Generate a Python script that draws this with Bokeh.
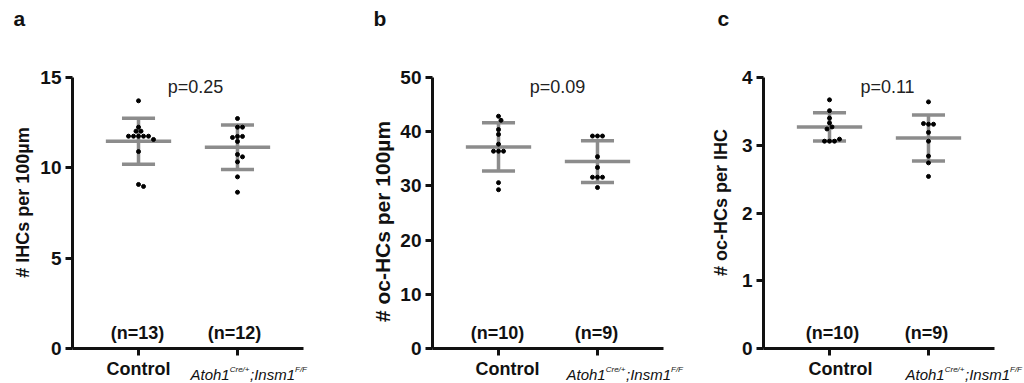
import numpy as np
from bokeh.plotting import figure
from bokeh.layouts import row
from bokeh.models import Range1d, FixedTicker, Label, CustomLabelingPolicy
from bokeh.embed import file_html
from bokeh.resources import INLINE

# ---------------- data ----------------
groups = ["Control", "Atoh1Cre/+;Insm1F/F"]

a_control = [13.71, 12.25, 12.03, 12.03, 11.75, 11.75, 11.75, 11.75, 11.75, 11.57, 10.90, 9.08, 8.97]
a_mutant = [12.73, 12.25, 12.25, 11.74, 11.74, 11.68, 11.46, 10.74, 10.61, 10.33, 9.50, 8.65]
a_mean = [11.47, 11.14]
a_sd = [1.27, 1.23]

b_control = [42.85, 42.1, 40.4, 39.5, 37.7, 36.4, 36.4, 36.4, 30.6, 29.3]
b_mutant = [39.2, 39.2, 39.2, 35.4, 33.4, 31.6, 31.6, 31.6, 29.7]
b_mean = [37.2, 34.5]
b_sd = [4.45, 3.85]

c_control = [3.67, 3.51, 3.40, 3.33, 3.27, 3.24, 3.06, 3.06, 3.06, 3.09]
c_mutant = [3.64, 3.31, 3.31, 3.32, 3.19, 3.06, 2.84, 2.74, 2.54]
c_mean = [3.27, 3.107]
c_sd = [0.209, 0.34]

y_ticks_a = [0, 5, 10, 15]
y_ticks_b = [0, 10, 20, 30, 40, 50]
y_ticks_c = [0, 1, 2, 3, 4]

n_labels_a = ["(n=13)", "(n=12)"]
n_labels_b = ["(n=10)", "(n=9)"]
n_labels_c = ["(n=10)", "(n=9)"]

p_text = ["p=0.25", "p=0.09", "p=0.11"]
y_titles = ["# IHCs per 100\u00b5m", "# oc-HCs per 100\u00b5m", "# oc-HCs per IHC"]
letters = ["a", "b", "c"]

# ---------------- layout constants ----------------
FONT = "Liberation Sans"
FIG_H = 383
AX_LEFT = 72          # local x of the y axis inside each figure
AX_TOP, AX_BOT = 77, 348
X0, X1 = -0.667, 1.667
PPX = 231 / (X1 - X0)
BAR_GREY = "#8c8c8c"
INK = "#111111"

HIDE_ALL = CustomLabelingPolicy(code="""
const ids = [...indices];
for (const i of ids) indices.unset(i);
return indices;
""")


def beeswarm(values, ppy, step=5.0, mind=4.6):
    placed = []
    xs = []
    cands = [0.0]
    for i in range(1, 14):
        cands += [i * step * 0.5, -i * step * 0.5]
    for v in values:
        vy = v * ppy
        chosen = 0.0
        for c in cands:
            if all((c - px) ** 2 + (vy - py) ** 2 >= mind ** 2 for px, py in placed):
                chosen = c
                break
        placed.append((chosen, vy))
        xs.append(chosen / PPX)
    return xs


def lab(p, text, dx, dy, size="18px", style="bold", align="center",
        baseline="middle", angle=0.0, color=INK):
    p.add_layout(Label(x=X0, y=0, x_offset=dx, y_offset=dy, text=text,
                       text_font=FONT, text_font_size=size, text_font_style=style,
                       text_align=align, text_baseline=baseline, angle=angle,
                       text_color=color))


def panel(fig_x0, width, ymax, yticks, ctrl, mut, means, sds, nlabels, ptxt,
          ytitle, letter, pos):
    ppy = (AX_BOT - AX_TOP) / ymax
    xr = Range1d(X0 - AX_LEFT / PPX, X0 + (width - AX_LEFT) / PPX)
    yr = Range1d(-(FIG_H - AX_BOT) / ppy, ymax + AX_TOP / ppy)
    p = figure(width=width, height=FIG_H, output_backend="svg", toolbar_location=None,
               x_range=xr, y_range=yr, min_border=0)
    p.outline_line_color = None
    p.grid.visible = False
    p.background_fill_color = "white"
    p.border_fill_color = "white"

    for ax in (p.xaxis[0], p.yaxis[0]):
        ax.axis_line_width = 3
        ax.axis_line_color = INK
        ax.major_tick_line_width = 3
        ax.major_tick_line_color = INK
        ax.major_tick_out = 7
        ax.major_tick_in = 0
        ax.minor_tick_out = 0
        ax.minor_tick_in = 0
    ya = p.yaxis[0]
    ya.ticker = FixedTicker(ticks=yticks)
    ya.fixed_location = X0
    ya.bounds = (0, ymax)
    ya.major_label_text_font = FONT
    ya.major_label_text_font_size = "19px"
    ya.major_label_text_font_style = "bold"
    ya.major_label_text_color = INK
    ya.major_label_standoff = 4
    xa = p.xaxis[0]
    xa.ticker = FixedTicker(ticks=[0, 1])
    xa.fixed_location = 0
    xa.bounds = (X0, X1)
    xa.major_label_policy = HIDE_ALL
    xa.major_label_standoff = 0

    # error bars (mean +/- SD)
    for i in range(2):
        m, s = means[i], sds[i]
        p.segment(x0=[i - 0.33], y0=[m], x1=[i + 0.33], y1=[m],
                  line_color=BAR_GREY, line_width=3.5)
        p.segment(x0=[i], y0=[m - s], x1=[i], y1=[m + s],
                  line_color=BAR_GREY, line_width=3.5)
        for yy in (m - s, m + s):
            p.segment(x0=[i - 0.167], y0=[yy], x1=[i + 0.167], y1=[yy],
                      line_color=BAR_GREY, line_width=3.5)
    # points
    for i, vals in enumerate([ctrl, mut]):
        jit = beeswarm(vals, ppy)
        p.scatter(x=[i + j for j in jit], y=vals, size=4, color="#000000")

    L = fig_x0 + AX_LEFT

    def dxy(px, py):
        return px - L, AX_BOT - py

    dx, dy = dxy(pos["letter_x"], 18)
    lab(p, letter, dx, dy, size="21px", align="left")
    dx, dy = dxy(pos["yt_x"], pos["yt_y"])
    lab(p, ytitle, dx, dy, size=pos.get("yt_size", "18px"), angle=np.pi / 2)
    dx, dy = dxy(pos["p_x"], 86)
    lab(p, ptxt, dx, dy, size="18px", style="normal", baseline="alphabetic",
        color="#222222")
    for k in range(2):
        dx, dy = dxy(pos["n_x"][k], 332)
        lab(p, nlabels[k], dx, dy)
    dx, dy = dxy(pos["ctrl_x"], 368)
    lab(p, groups[0], dx, dy)
    parts = [("Atoh1", "15px", 374, 39.2), ("Cre/+", "8px", 369, 20.3),
             (";Insm1", "15px", 374, 45.0), ("F/F", "8px", 369, 12)]
    cx = pos["atoh_x"]
    for txt, sz, by, w in parts:
        dx, dy = dxy(cx, by)
        lab(p, txt, dx, dy, size=sz, style="italic", align="left",
            baseline="alphabetic")
        cx += w
    return p


pa = panel(0, 360, 15, y_ticks_a, a_control, a_mutant, a_mean, a_sd, n_labels_a,
           p_text[0], y_titles[0], letters[0],
           dict(letter_x=13, yt_x=22, yt_y=202, p_x=195, n_x=[137, 234],
                ctrl_x=138, atoh_x=190))
pb = panel(360, 331, 50, y_ticks_b, b_control, b_mutant, b_mean, b_sd, n_labels_b,
           p_text[1], y_titles[1], letters[1],
           dict(letter_x=373, yt_x=382, yt_y=221, yt_size="21px", p_x=557,
                n_x=[497, 596], ctrl_x=507, atoh_x=566))
pc = panel(691, 333, 4, y_ticks_c, c_control, c_mutant, c_mean, c_sd, n_labels_c,
           p_text[2], y_titles[2], letters[2],
           dict(letter_x=717, yt_x=720, yt_y=202, p_x=887, n_x=[832, 926],
                ctrl_x=840, atoh_x=905))

layout = row(pa, pb, pc)
open("out.html", "w").write(file_html(layout, INLINE))
